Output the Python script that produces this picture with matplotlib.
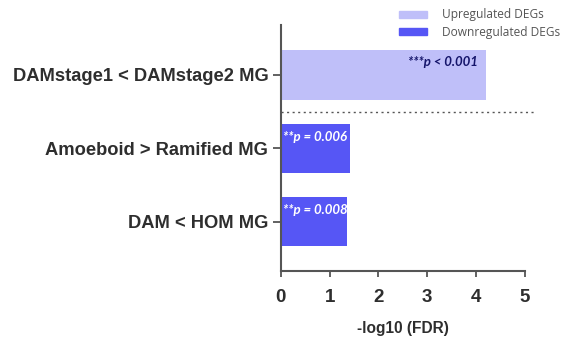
import matplotlib.pyplot as plt
from matplotlib.patches import Patch

comparaciones = ["DAMstage1 < DAMstage2 MG", "Amoeboid > Ramified MG", "DAM < HOM MG"]
valores = [4.2, 1.42, 1.36]
tipo = ["up", "down", "down"]
etiquetas_p = ["***p < 0.001", "**p = 0.006", "**p = 0.008"]
xticks = [0, 1, 2, 3, 4, 5]

color_up = "#bfbff9"
color_down = "#5656f5"
gris = "#2e2e2e"

fig = plt.figure(figsize=(5.65, 3.39), dpi=100)
ax = fig.add_axes([0.497, 0.2006, 0.432, 0.7257])

pos = list(range(len(comparaciones)))
colores = [color_up if t == "up" else color_down for t in tipo]
ax.barh(pos, valores, height=0.67, color=colores)

for i, (v, txt, t) in enumerate(zip(valores, etiquetas_p, tipo)):
    if t == "up":
        ax.text(v - 0.16, i - 0.17, txt, ha="right", va="center", color="#15156b",
                fontsize=9.5, fontweight="bold", fontstyle="italic", family="Lato")
    else:
        ax.text(0.04, i - 0.16, txt, ha="left", va="center", color="white",
                fontsize=9.5, fontweight="bold", fontstyle="italic", family="Lato")

ax.plot([0, 5.2], [0.5, 0.5], linestyle=(0, (1.5, 2.5)), color="#555555",
        linewidth=1, clip_on=False)

ax.set_ylim(2.67, -0.68)
ax.set_xlim(0, 5)
ax.set_yticks(pos)
ax.set_yticklabels(comparaciones, fontsize=13.2, fontweight="bold", color=gris,
                   family="Liberation Sans")
ax.set_xticks(xticks)
ax.set_xticklabels([str(x) for x in xticks], fontsize=13.5, fontweight="bold",
                   color=gris, family="Liberation Sans")
ax.set_xlabel("-log10 (FDR)", fontsize=11.2, fontweight="bold", color=gris,
              family="Liberation Sans", labelpad=11)

for lado in ["top", "right"]:
    ax.spines[lado].set_visible(False)
for lado in ["left", "bottom"]:
    ax.spines[lado].set_color("#555555")
    ax.spines[lado].set_linewidth(1.5)
ax.tick_params(axis="y", colors="#555555", width=1.3, length=6, pad=3, labelcolor=gris)
ax.tick_params(axis="x", colors="#555555", width=1.3, length=4, pad=9, labelcolor=gris)

handles = [Patch(color=color_up, label="Upregulated DEGs"),
           Patch(color=color_down, label="Downregulated DEGs")]
fig.legend(handles=handles, loc="upper left", bbox_to_anchor=(0.688, 1.007),
           frameon=False, labelcolor="#555555",
           prop={"family": "Open Sans", "size": 8.6},
           handlelength=2.3, handleheight=0.55, labelspacing=0.35, handletextpad=1.3)

fig.savefig("out.png", dpi=100)
